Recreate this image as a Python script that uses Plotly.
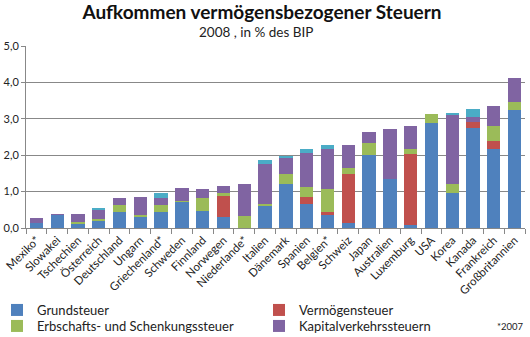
import plotly.graph_objects as go

countries = ["Mexiko*", "Slowakei", "Tschechien", "Österreich", "Deutschland", "Ungarn",
             "Griechenland*", "Schweden", "Finnland", "Norwegen", "Niederlande*", "Italien",
             "Dänemark", "Spanien", "Belgien*", "Schweiz", "Japan", "Australien", "Luxemburg",
             "USA", "Korea", "Kanada", "Frankreich", "Großbritannien"]

grundsteuer = [0.15, 0.36, 0.13, 0.20, 0.43, 0.29, 0.43, 0.73, 0.47, 0.29, 0.00, 0.62,
               1.21, 0.65, 0.36, 0.15, 2.00, 1.35, 0.07, 2.88, 0.95, 2.75, 2.17, 3.25]
vermoegensteuer = [0, 0, 0, 0, 0, 0, 0, 0, 0, 0.59, 0, 0,
                   0, 0.21, 0.09, 1.33, 0, 0, 1.97, 0, 0, 0.16, 0.21, 0]
erbschaft = [0, 0, 0.04, 0.06, 0.19, 0.06, 0.19, 0.02, 0.36, 0.07, 0.32, 0.03,
             0.27, 0.28, 0.62, 0.17, 0.33, 0, 0.12, 0.24, 0.26, 0, 0.41, 0.22]
kapitalverkehr = [0.12, 0.02, 0.22, 0.24, 0.21, 0.51, 0.21, 0.34, 0.24, 0.20, 0.89, 1.10,
                  0.46, 0.92, 1.09, 0.62, 0.30, 1.36, 0.63, 0, 1.92, 0.15, 0.55, 0.66]
sonstige = [0, 0, 0, 0.04, 0, 0, 0.12, 0, 0, 0, 0, 0.11,
            0.04, 0.10, 0.11, 0, 0, 0, 0, 0, 0.03, 0.22, 0, 0]

y_ticks = [0, 1, 2, 3, 4, 5]

FONT = "Lato"
W, H = 530, 337
ML, MR, MT, MB = 26, 5, 46, 109
PW, PH = W - ML - MR, H - MT - MB

# (name, values, colour, legend id or None)
series = [
    ("Grundsteuer", grundsteuer, "#4F81BD", "legend"),
    ("Vermögensteuer", vermoegensteuer, "#C0504D", "legend2"),
    ("Erbschafts- und Schenkungssteuer", erbschaft, "#9BBB59", "legend3"),
    ("Kapitalverkehrssteuern", kapitalverkehr, "#8064A2", "legend4"),
    ("Sonstige", sonstige, "#4BACC6", None),
]

fig = go.Figure()
for name, vals, col, leg in series:
    kw = dict(x=countries, y=vals, name=name, marker_color=col, marker_line_width=0)
    if leg is None:
        kw["showlegend"] = False
    else:
        kw["legend"] = leg
    fig.add_trace(go.Bar(**kw))


def px_x(px):
    return (px - ML) / PW


def px_y(py):
    return (H - MB - py) / PH


def leg_box(px, py):
    return dict(x=px_x(px), y=px_y(py), xref="paper", yref="paper",
                xanchor="left", yanchor="middle", bgcolor="rgba(0,0,0,0)",
                font=dict(family=FONT, size=13, color="#222"), itemwidth=30)


fig.update_layout(
    barmode="stack",
    bargap=0.36,
    width=W, height=H,
    margin=dict(l=ML, r=MR, t=MT, b=MB, autoexpand=False),
    paper_bgcolor="white", plot_bgcolor="white",
    separators=",.",
    font=dict(family=FONT, size=11, color="#222"),
    title=dict(text="<b>Aufkommen vermögensbezogener Steuern</b>", x=262 / W, xanchor="center",
               y=1 - 12 / H, yanchor="middle", yref="container",
               font=dict(family=FONT, size=19, color="#111")),
    legend=leg_box(-3, 310),
    legend2=leg_box(259, 310),
    legend3=leg_box(-3, 326),
    legend4=leg_box(259, 326),
    annotations=[
        dict(text="2008 , in % des BIP", x=px_x(256), y=px_y(32), xref="paper", yref="paper",
             showarrow=False, xanchor="center", yanchor="middle",
             font=dict(family=FONT, size=13.5, color="#222")),
        dict(text="*2007", x=px_x(526), y=px_y(326), xref="paper", yref="paper",
             showarrow=False, xanchor="right", yanchor="middle",
             font=dict(family=FONT, size=9.5, color="#222")),
    ],
)
fig.update_xaxes(tickangle=-45, showline=True, linecolor="#888", linewidth=1,
                 ticks="outside", tickson="boundaries", ticklen=5, tickcolor="#888",
                 tickfont=dict(family=FONT, size=11.5, color="#222"), showgrid=False,
                 automargin=False)
fig.update_yaxes(range=[0, 5], tickvals=y_ticks, tickformat=".1f", showline=True,
                 linecolor="#888", linewidth=1, gridcolor="#888", gridwidth=1,
                 ticks="outside", ticklen=4, tickcolor="#888", zeroline=False,
                 tickfont=dict(family=FONT, size=11, color="#222"), automargin=False)

fig.write_html("out.html")
